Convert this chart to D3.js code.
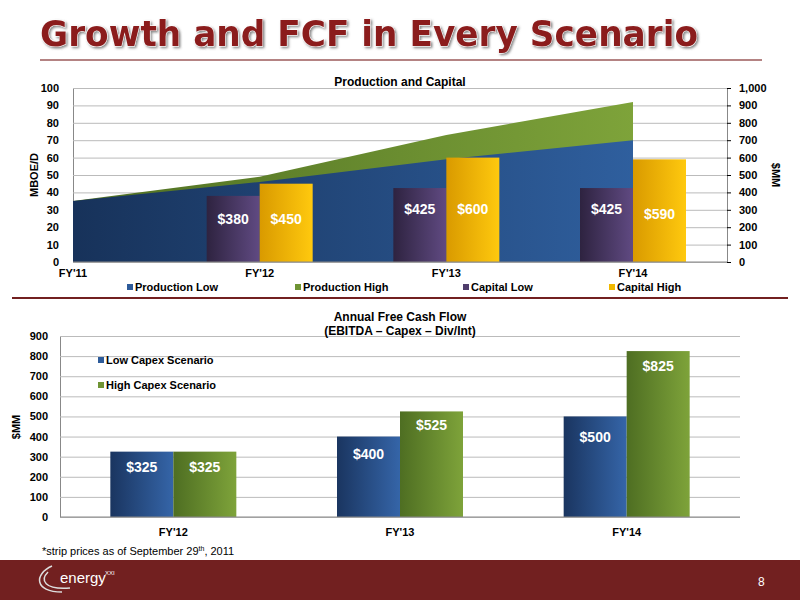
<!DOCTYPE html>
<html><head><meta charset="utf-8">
<script src="https://cdn.jsdelivr.net/npm/d3@7"></script>
<style>body{margin:0;background:#fff}svg{font-family:"Liberation Sans",Arial,sans-serif}</style>
</head><body><svg id="c" width="800" height="600"></svg>
<script>
const years1 = ["FY'11","FY'12","FY'13","FY'14"];
const prodLow = [35, 46, 59, 70];
const prodHigh = [35, 49, 73, 92];
const capYears = ["FY'12","FY'13","FY'14"];
const capLow = [380, 425, 425];
const capHigh = [450, 600, 590];
const fcfYears = ["FY'12","FY'13","FY'14"];
const fcfLow = [325, 400, 500];
const fcfHigh = [325, 525, 825];

const svg = d3.select("#c");
const defs = svg.append("defs");
function grad(id, stops){const g=defs.append("linearGradient").attr("id",id).attr("x1",0).attr("x2",1).attr("y1",0).attr("y2",0);stops.forEach(s=>g.append("stop").attr("offset",s[0]).attr("stop-color",s[1]));}
grad("gBlue",[[0,"#1a3560"],[1,"#3565a8"]]);
grad("gBlueArea",[[0,"#17325a"],[1,"#2f5f9e"]]);
grad("gGreen",[[0,"#4e6e22"],[1,"#7ea33a"]]);
grad("gPurple",[[0,"#2e2340"],[1,"#604a82"]]);
grad("gGold",[[0,"#d99a00"],[1,"#ffc90e"]]);
const sh=defs.append("filter").attr("id","sh");
sh.append("feDropShadow").attr("dx",1.5).attr("dy",1.5).attr("stdDeviation",1).attr("flood-color","#555").attr("flood-opacity",0.7);

// Title
svg.append("text").attr("x",40).attr("y",46).text("Growth and FCF in Every Scenario")
 .attr("font-family","DejaVu Sans").attr("font-weight","bold").attr("font-size",36)
 .attr("fill","#8b1f1f").attr("stroke","#fff").attr("stroke-width",1)
 .style("paint-order","stroke").attr("textLength",658).attr("lengthAdjust","spacingAndGlyphs")
 .attr("filter","url(#sh)");
svg.append("line").attr("x1",40).attr("x2",762).attr("y1",60).attr("y2",60).attr("stroke","#9b5a5a").attr("stroke-width",1.5);
svg.append("line").attr("x1",12).attr("x2",788).attr("y1",298).attr("y2",298).attr("stroke","#722020").attr("stroke-width",2);

// Chart 1
const L=73,R=727,T=88,B=262;
const x1 = d3.scalePoint().domain(years1).range([L,633]);
const yL = d3.scaleLinear().domain([0,100]).range([B,T]);
const yR = d3.scaleLinear().domain([0,1000]).range([B,T]);
const g1 = svg.append("g").attr("font-size",11).attr("font-weight","bold");
g1.append("g").attr("transform",`translate(${L},0)`).call(d3.axisLeft(yL).tickValues(d3.range(0,101,10)).tickSize(-(R-L)).tickPadding(14))
 .call(g=>{g.select(".domain").attr("stroke","#888");g.selectAll(".tick line").attr("stroke","#bbb");g.selectAll("text").attr("font-weight","bold").attr("font-size",11).attr("fill","#000");});
g1.append("g").attr("transform",`translate(${R},0)`).call(d3.axisRight(yR).tickValues(d3.range(0,1001,100)).tickFormat(d3.format(",")).tickSize(4).tickPadding(8))
 .call(g=>{g.select(".domain").attr("stroke","#888");g.selectAll("text").attr("font-weight","bold").attr("font-size",11).attr("fill","#000");});
const areaH = d3.area().x((d,i)=>x1(years1[i])).y0(B).y1(d=>yL(d));
g1.append("path").datum(prodHigh).attr("d",areaH).attr("fill","url(#gGreen)");
g1.append("path").datum(prodLow).attr("d",areaH).attr("fill","url(#gBlueArea)");
const bw=53;
capYears.forEach((yv,i)=>{
  const cx=x1(yv);
  g1.append("rect").attr("x",cx-bw).attr("y",yR(capLow[i])).attr("width",bw).attr("height",B-yR(capLow[i])).attr("fill","url(#gPurple)");
  g1.append("rect").attr("x",cx).attr("y",yR(capHigh[i])).attr("width",bw).attr("height",B-yR(capHigh[i])).attr("fill","url(#gGold)");
});
const lblY1=[[224,224],[214,214],[214,219]];
capYears.forEach((yv,i)=>{
  const cx=x1(yv);
  [[capLow[i],cx-bw/2,lblY1[i][0]],[capHigh[i],cx+bw/2,lblY1[i][1]]].forEach(a=>
   g1.append("text").attr("x",a[1]).attr("y",a[2]).attr("text-anchor","middle").attr("fill","#fff").attr("font-size",14).text("$"+a[0]));
});
g1.append("line").attr("x1",L).attr("x2",R).attr("y1",B).attr("y2",B).attr("stroke","#888");
years1.forEach(yv=>g1.append("text").attr("x",x1(yv)).attr("y",277).attr("text-anchor","middle").text(yv));
g1.append("text").attr("x",400).attr("y",86).attr("text-anchor","middle").attr("font-size",12).text("Production and Capital");
g1.append("text").attr("transform","translate(38,175) rotate(-90)").attr("text-anchor","middle").text("MBOE/D");
g1.append("text").attr("transform","translate(772,175) rotate(90)").attr("text-anchor","middle").text("$MM");
const leg1=[["Production Low","#2d5b9a",127],["Production High","#6f9434",295],["Capital Low","#4f3d6c",463],["Capital High","#f0b800",609]];
leg1.forEach(l=>{g1.append("rect").attr("x",l[2]).attr("y",284).attr("width",6).attr("height",6).attr("fill",l[1]);
 g1.append("text").attr("x",l[2]+8).attr("y",291).text(l[0]);});

// Chart 2
const L2=60,R2=740,T2=336,B2=517;
const x2 = d3.scaleBand().domain(fcfYears).range([L2,R2]);
const y2 = d3.scaleLinear().domain([0,900]).range([B2,T2]);
const g2 = svg.append("g").attr("font-size",11).attr("font-weight","bold");
g2.append("g").attr("transform",`translate(${L2},0)`).call(d3.axisLeft(y2).tickValues(d3.range(0,901,100)).tickSize(-(R2-L2)).tickPadding(12))
 .call(g=>{g.select(".domain").attr("stroke","#888");g.selectAll(".tick line").attr("stroke","#bbb");g.selectAll("text").attr("font-weight","bold").attr("font-size",11).attr("fill","#000");});
const bw2=63;
fcfYears.forEach((yv,i)=>{
  const cx=x2(yv)+x2.bandwidth()/2;
  g2.append("rect").attr("x",cx-bw2).attr("y",y2(fcfLow[i])).attr("width",bw2).attr("height",B2-y2(fcfLow[i])).attr("fill","url(#gBlue)");
  g2.append("rect").attr("x",cx).attr("y",y2(fcfHigh[i])).attr("width",bw2).attr("height",B2-y2(fcfHigh[i])).attr("fill","url(#gGreen)");
});
const lbl2=[[472,472],[459,430],[442,371]];
fcfYears.forEach((yv,i)=>{
  const cx=x2(yv)+x2.bandwidth()/2;
  g2.append("text").attr("x",cx-bw2/2).attr("y",lbl2[i][0]).attr("text-anchor","middle").attr("fill","#fff").attr("font-size",14).text("$"+fcfLow[i]);
  g2.append("text").attr("x",cx+bw2/2).attr("y",lbl2[i][1]).attr("text-anchor","middle").attr("fill","#fff").attr("font-size",14).text("$"+fcfHigh[i]);
});
g2.append("line").attr("x1",L2).attr("x2",R2).attr("y1",B2).attr("y2",B2).attr("stroke","#888");
fcfYears.forEach(yv=>g2.append("text").attr("x",x2(yv)+x2.bandwidth()/2).attr("y",536).attr("text-anchor","middle").text(yv));
g2.append("text").attr("x",400).attr("y",321).attr("text-anchor","middle").attr("font-size",12).text("Annual Free Cash Flow");
g2.append("text").attr("x",400).attr("y",335).attr("text-anchor","middle").attr("font-size",12).text("(EBITDA – Capex – Div/Int)");
g2.append("text").attr("transform","translate(20,427) rotate(-90)").attr("text-anchor","middle").text("$MM");
[["Low Capex Scenario","#2d5b9a",364],["High Capex Scenario","#6f9434",389]].forEach(l=>{
 g2.append("rect").attr("x",98).attr("y",l[2]-7).attr("width",6).attr("height",6).attr("fill",l[1]);
 g2.append("text").attr("x",106).attr("y",l[2]).text(l[0]);});

// Footer
const ft=svg.append("text").attr("x",42).attr("y",555).attr("font-size",11);
ft.append("tspan").text("*strip prices as of September 29");
ft.append("tspan").attr("font-size",7).attr("dy",-4).text("th");
ft.append("tspan").attr("dy",4).text(", 2011");
svg.append("rect").attr("x",0).attr("y",560).attr("width",800).attr("height",40).attr("fill","#722020");
svg.append("path").attr("d","M52,566 C34,574 34,592 62,592 M48,572 C40,580 44,590 70,588").attr("fill","none").attr("stroke","#ddd").attr("stroke-width",1.5);
svg.append("text").attr("x",60).attr("y",583).attr("fill","#fff").attr("font-size",15).text("energy");
svg.append("text").attr("x",105).attr("y",575).attr("fill","#fff").attr("font-size",6).text("XXI");
svg.append("text").attr("x",758).attr("y",586).attr("fill","#fff").attr("font-size",12).text("8");
</script></body></html>
